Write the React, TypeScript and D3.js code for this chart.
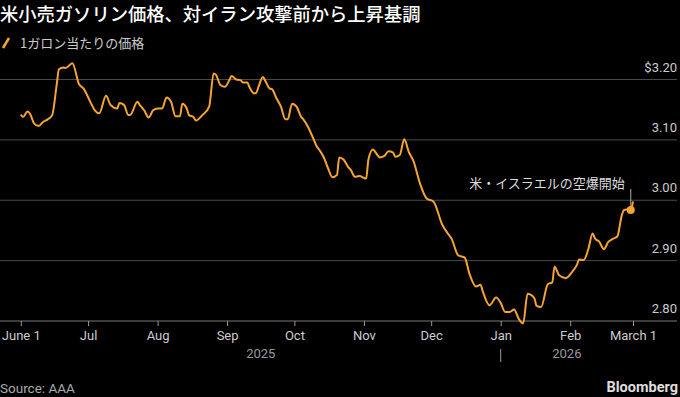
import React, { useEffect, useRef } from 'react';
import * as d3 from 'd3';

const title = '米小売ガソリン価格、対イラン攻撃前から上昇基調';
const legendLabel = '1ガロン当たりの価格';
const annotationText = '米・イスラエルの空爆開始';
const sourceText = 'Source: AAA';

const dates = [
  '2025-06-01', '2025-06-02', '2025-06-04', '2025-06-05', '2025-06-07', '2025-06-09', '2025-06-11', '2025-06-13',
  '2025-06-15', '2025-06-17', '2025-06-18', '2025-06-20', '2025-06-21', '2025-06-24', '2025-06-27', '2025-06-29',
  '2025-07-02', '2025-07-04', '2025-07-06', '2025-07-09', '2025-07-11', '2025-07-14', '2025-07-15', '2025-07-17',
  '2025-07-19', '2025-07-20', '2025-07-23', '2025-07-24', '2025-07-26', '2025-07-28', '2025-07-30', '2025-08-01',
  '2025-08-03', '2025-08-05', '2025-08-07', '2025-08-09', '2025-08-11', '2025-08-12', '2025-08-14', '2025-08-15',
  '2025-08-17', '2025-08-18', '2025-08-21', '2025-08-24', '2025-08-26', '2025-08-27', '2025-08-29', '2025-08-31',
  '2025-09-02', '2025-09-03', '2025-09-05', '2025-09-07', '2025-09-08', '2025-09-10', '2025-09-11', '2025-09-13',
  '2025-09-14', '2025-09-15', '2025-09-17', '2025-09-18', '2025-09-20', '2025-09-21', '2025-09-23', '2025-09-25',
  '2025-09-27', '2025-09-28', '2025-09-30', '2025-10-02', '2025-10-04', '2025-10-05', '2025-10-07', '2025-10-09',
  '2025-10-11', '2025-10-12', '2025-10-14', '2025-10-16', '2025-10-18', '2025-10-20', '2025-10-21', '2025-10-23',
  '2025-10-25', '2025-10-26', '2025-10-28', '2025-10-30', '2025-11-02', '2025-11-03', '2025-11-05', '2025-11-07',
  '2025-11-08', '2025-11-10', '2025-11-12', '2025-11-14', '2025-11-15', '2025-11-17', '2025-11-19', '2025-11-21',
  '2025-11-23', '2025-11-26', '2025-11-29', '2025-12-02', '2025-12-06', '2025-12-09', '2025-12-10', '2025-12-13',
  '2025-12-16', '2025-12-18', '2025-12-21', '2025-12-23', '2025-12-24', '2025-12-27', '2025-12-30', '2026-01-01',
  '2026-01-03', '2026-01-05', '2026-01-07', '2026-01-09', '2026-01-11', '2026-01-13', '2026-01-16', '2026-01-17',
  '2026-01-19', '2026-01-22', '2026-01-24', '2026-01-25', '2026-01-27', '2026-01-29', '2026-01-30', '2026-02-02',
  '2026-02-04', '2026-02-05', '2026-02-07', '2026-02-09', '2026-02-11', '2026-02-12', '2026-02-14', '2026-02-16',
  '2026-02-18', '2026-02-20', '2026-02-22', '2026-02-24', '2026-02-25', '2026-02-27', '2026-02-28', '2026-03-01',
];

const prices = [
  3.142, 3.138, 3.147, 3.144, 3.127, 3.123, 3.130, 3.134,
  3.141, 3.191, 3.217, 3.220, 3.219, 3.227, 3.192, 3.185,
  3.163, 3.149, 3.144, 3.173, 3.158, 3.152, 3.161, 3.158,
  3.141, 3.142, 3.163, 3.158, 3.149, 3.137, 3.149, 3.152,
  3.152, 3.170, 3.163, 3.139, 3.139, 3.160, 3.152, 3.141,
  3.138, 3.132, 3.141, 3.155, 3.210, 3.208, 3.191, 3.188,
  3.199, 3.206, 3.200, 3.199, 3.195, 3.195, 3.187, 3.177,
  3.178, 3.188, 3.204, 3.198, 3.185, 3.184, 3.169, 3.155,
  3.134, 3.134, 3.160, 3.155, 3.138, 3.134, 3.122, 3.106,
  3.089, 3.084, 3.072, 3.053, 3.038, 3.042, 3.071, 3.067,
  3.055, 3.051, 3.039, 3.040, 3.036, 3.067, 3.084, 3.075,
  3.071, 3.073, 3.081, 3.079, 3.072, 3.075, 3.101, 3.080,
  3.066, 3.028, 3.003, 2.998, 2.959, 2.942, 2.937, 2.909,
  2.905, 2.879, 2.857, 2.860, 2.849, 2.826, 2.839, 2.830,
  2.815, 2.815, 2.819, 2.804, 2.796, 2.845, 2.838, 2.825,
  2.823, 2.861, 2.864, 2.890, 2.876, 2.872, 2.871, 2.882,
  2.893, 2.902, 2.901, 2.918, 2.945, 2.937, 2.931, 2.919,
  2.931, 2.936, 2.940, 2.975, 2.984, 2.985, 2.984, 2.998,
];

const tickDates = ['2025-06-01', '2025-07-01', '2025-08-01', '2025-09-01', '2025-10-01', '2025-11-01', '2025-12-01', '2026-01-01', '2026-02-01', '2026-03-01'];
const tickLabels = ['June 1', 'Jul', 'Aug', 'Sep', 'Oct', 'Nov', 'Dec', 'Jan', 'Feb', 'March 1'];
const yearLabels = ['2025', '2026'];
const yearStarts = ['2025-06-01', '2026-01-01', '2026-03-01'];
const yTicks = [2.8, 2.9, 3.0, 3.1, 3.2];
const strikeDate = '2026-02-28';

const W = 680;
const H = 397;
const LINE = '#f6a432';
const CJK = '"Noto Sans CJK JP", "Noto Sans", sans-serif';
const LATIN = 'Roboto, "Liberation Sans", sans-serif';

const App: React.FC = () => {
  const svgRef = useRef<SVGSVGElement>(null);

  useEffect(() => {
    if (!svgRef.current) return;
    document.body.style.margin = '0';
    document.body.style.background = '#000';

    const svg = d3.select(svgRef.current);
    svg.selectAll('*').remove();

    const parse = d3.utcParse('%Y-%m-%d');
    const data = dates.map((d, i) => ({ date: parse(d) as Date, value: prices[i] }));

    const x = d3.scaleUtc()
      .domain([parse(tickDates[0]) as Date, parse(tickDates[tickDates.length - 1]) as Date])
      .range([20.8, 633]);
    const y = d3.scaleLinear().domain([2.8, 3.2]).range([321, 79.5]);

    svg.append('rect').attr('width', W).attr('height', H).attr('fill', '#000');

    // title + legend
    svg.append('text')
      .attr('x', 0).attr('y', 20.5)
      .attr('fill', '#fff')
      .style('font-family', CJK)
      .style('font-size', '18.3px')
      .style('font-weight', 500)
      .text(title);

    svg.append('line')
      .attr('x1', 3).attr('y1', 48).attr('x2', 9).attr('y2', 38)
      .attr('stroke', LINE).attr('stroke-width', 2.5);
    svg.append('text')
      .attr('x', 20).attr('y', 48)
      .attr('fill', '#ccc')
      .style('font-family', CJK)
      .style('font-size', '13px')
      .text(legendLabel);

    // gridlines + y labels
    const grid = svg.append('g');
    grid.selectAll('line')
      .data(yTicks)
      .enter()
      .append('line')
      .attr('x1', 0).attr('x2', 677)
      .attr('y1', d => y(d)).attr('y2', d => y(d))
      .attr('stroke', d => (d === 2.8 ? '#777' : '#4a4a4a'))
      .attr('stroke-width', 1);
    grid.selectAll('text')
      .data(yTicks)
      .enter()
      .append('text')
      .attr('x', 677)
      .attr('y', d => y(d) - 8)
      .attr('text-anchor', 'end')
      .attr('fill', '#ccc')
      .style('font-family', LATIN)
      .style('font-size', '13px')
      .text(d => (d === 3.2 ? '$' : '') + d3.format('.2f')(d));

    // x axis
    const xAxis = svg.append('g')
      .attr('transform', 'translate(0,321)')
      .call(
        d3.axisBottom(x)
          .tickValues(tickDates.map(d => parse(d) as Date))
          .tickFormat((_, i) => tickLabels[i])
          .tickSize(5)
          .tickPadding(5)
      );
    xAxis.select('.domain').remove();
    xAxis.selectAll('line').attr('stroke', '#999');
    xAxis.selectAll('text')
      .attr('fill', '#ccc')
      .style('font-family', LATIN)
      .style('font-size', '13px');

    // years
    const bounds = yearStarts.map(d => x(parse(d) as Date));
    yearLabels.forEach((label, i) => {
      svg.append('text')
        .attr('x', (bounds[i] + bounds[i + 1]) / 2)
        .attr('y', 358)
        .attr('text-anchor', 'middle')
        .attr('fill', '#999')
        .style('font-family', LATIN)
        .style('font-size', '13px')
        .text(label);
    });
    svg.append('line')
      .attr('x1', bounds[1]).attr('x2', bounds[1])
      .attr('y1', 349).attr('y2', 362)
      .attr('stroke', '#999').attr('stroke-width', 1);

    // price line
    const line = d3.line<{ date: Date; value: number }>()
      .x(d => x(d.date))
      .y(d => y(d.value))
      .curve(d3.curveMonotoneX);
    svg.append('path')
      .datum(data)
      .attr('d', line)
      .attr('fill', 'none')
      .attr('stroke', LINE)
      .attr('stroke-width', 2)
      .attr('stroke-linejoin', 'round');

    // annotation
    const strike = data.find(d => d3.utcFormat('%Y-%m-%d')(d.date) === strikeDate)!;
    const sx = x(strike.date);
    const sy = y(strike.value);
    svg.append('line')
      .attr('x1', sx).attr('x2', sx)
      .attr('y1', sy - 21).attr('y2', sy - 4)
      .attr('stroke', '#aaa').attr('stroke-width', 1);
    svg.append('circle')
      .attr('cx', sx).attr('cy', sy).attr('r', 4)
      .attr('fill', LINE);
    svg.append('text')
      .attr('x', sx - 6).attr('y', sy - 22)
      .attr('text-anchor', 'end')
      .attr('fill', '#ddd')
      .style('font-family', CJK)
      .style('font-size', '13px')
      .text(annotationText);

    // footer
    svg.append('text')
      .attr('x', 0).attr('y', 393)
      .attr('fill', '#aaa')
      .style('font-family', LATIN)
      .style('font-size', '13.5px')
      .text(sourceText);
    svg.append('text')
      .attr('x', 678).attr('y', 392)
      .attr('text-anchor', 'end')
      .attr('fill', '#ddd')
      .style('font-family', LATIN)
      .style('font-size', '14.5px')
      .style('font-weight', 700)
      .text('Bloomberg');
  }, []);

  return (
    <svg ref={svgRef} width={W} height={H} style={{ display: 'block' }}></svg>
  );
};

export default App;
